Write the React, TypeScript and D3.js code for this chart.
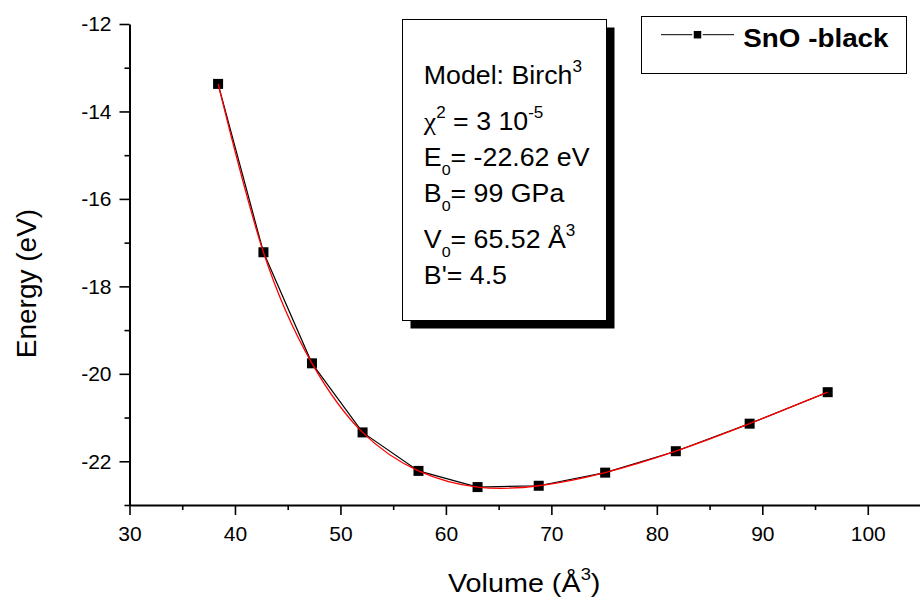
import React, { useEffect, useRef } from 'react';
import * as d3 from 'd3';

// measured points, Volume (Å^3) vs Energy (eV)
const volume = [38.4, 42.7, 47.3, 52.1, 57.4, 63.0, 68.8, 75.1, 81.8, 88.8, 96.2];
const energy = [-13.37, -17.22, -19.76, -21.34, -22.22, -22.59, -22.56, -22.26, -21.77, -21.14, -20.42];

const xTicks = [30, 40, 50, 60, 70, 80, 90, 100];
const xMinor = [35, 45, 55, 65, 75, 85, 95, 105];
const yTicks = [-12, -14, -16, -18, -20, -22];
const yMinor = [-13, -15, -17, -19, -21, -23];

const legendLabel = 'SnO -black';

type Seg = [string, 'n' | 'sup' | 'sub' | 'chi'];
const fitText: Seg[][] = [
  [['Model: Birch', 'n'], ['3', 'sup']],
  [['χ', 'chi'], ['2', 'sup'], [' = 3 10', 'n'], ['-5', 'sup']],
  [['E', 'n'], ['0', 'sub'], ['= -22.62 eV', 'n']],
  [['B', 'n'], ['0', 'sub'], ['= 99 GPa', 'n']],
  [['V', 'n'], ['0', 'sub'], ['= 65.52 Å', 'n'], ['3', 'sup']],
  [["B'= 4.5", 'n']],
];

const W = 920;
const H = 602;
const font = 'Liberation Sans, Arial, Helvetica, sans-serif';

const x = d3.scaleLinear().domain([30, 105]).range([129.5, 920.5]);
const y = d3.scaleLinear().domain([-23, -12]).range([505, 24]);

// layout of the parameter box
const box = { x: 402.5, y: 19.5, w: 204, h: 301, shadow: 8 };
const textX = 423.8;
const baselines = [83.5, 130, 166.3, 202, 248.4, 284];

function RichLine({ segs, by }: { segs: Seg[]; by: number }) {
  let shift = 0;
  return (
    <g transform={`translate(${textX},${by}) scale(1.07,1)`}>
      <text x={0} y={0} fontSize={25} fontFamily={font} fill="#000" style={{ whiteSpace: 'pre' }}>
        {segs.map(([t, k], i) => {
          let target = 0;
          let size = 25;
          let fam = font;
          if (k === 'sup') { target = -12; size = 16; }
          if (k === 'sub') { target = 9; size = 15; }
          if (k === 'chi') { fam = 'Liberation Serif, DejaVu Serif, serif'; size = 26; }
          const dy = target - shift;
          shift = target;
          return (
            <tspan key={i} dy={dy} fontSize={size} fontFamily={fam}>{t}</tspan>
          );
        })}
      </text>
    </g>
  );
}

export default function App() {
  const gx = useRef<SVGGElement>(null);
  const gy = useRef<SVGGElement>(null);

  const pts = volume.map((v, i) => [v, energy[i]] as [number, number]);
  const straight = d3.line<[number, number]>().x(d => x(d[0])).y(d => y(d[1]))(pts) || '';
  const smooth = d3.line<[number, number]>().x(d => x(d[0])).y(d => y(d[1])).curve(d3.curveNatural)(pts) || '';

  useEffect(() => {
    const fmt = (d: d3.NumberValue) => String(d);

    const ax = d3.select(gx.current!);
    ax.selectAll('*').remove();
    ax.append('g')
      .call(d3.axisBottom(x).tickValues(xMinor).tickSize(5).tickSizeOuter(0).tickFormat(() => ''))
      .call(g => g.select('.domain').remove());
    ax.append('g')
      .call(d3.axisBottom(x).tickValues(xTicks).tickSize(10).tickSizeOuter(0).tickPadding(11).tickFormat(fmt));
    ax.selectAll('line').attr('stroke', '#000').attr('stroke-width', 1.6);
    ax.selectAll('.domain').attr('stroke', '#000').attr('stroke-width', 2);
    ax.selectAll('text').attr('font-size', 21).attr('font-family', font).attr('fill', '#000');

    const ay = d3.select(gy.current!);
    ay.selectAll('*').remove();
    ay.append('g')
      .call(d3.axisLeft(y).tickValues(yMinor).tickSize(5).tickSizeOuter(0).tickFormat(() => ''))
      .call(g => g.select('.domain').remove());
    ay.append('g')
      .call(d3.axisLeft(y).tickValues(yTicks).tickSize(10).tickSizeOuter(0).tickPadding(8).tickFormat(fmt));
    ay.selectAll('line').attr('stroke', '#000').attr('stroke-width', 1.6);
    ay.selectAll('.domain').attr('stroke', '#000').attr('stroke-width', 2);
    ay.selectAll('text').attr('font-size', 21).attr('font-family', font).attr('fill', '#000');
  }, []);

  return (
    <div style={{ position: 'absolute', left: 0, top: 0, width: W, height: H, background: '#fff' }}>
      <svg width={W} height={H} style={{ display: 'block' }}>
        <rect width={W} height={H} fill="#fff" />

        {/* data */}
        <path d={straight} fill="none" stroke="#000" strokeWidth={1.2} />
        {pts.map((p, i) => (
          <rect key={i} x={x(p[0]) - 5} y={y(p[1]) - 5} width={10} height={10} fill="#000" />
        ))}
        <path d={smooth} fill="none" stroke="#ff0000" strokeWidth={1.3} />

        {/* axes */}
        <g ref={gx} transform={`translate(0,${y(-23)})`} />
        <g ref={gy} transform={`translate(${x(30)},0)`} />

        {/* axis titles */}
        <g transform="translate(448,591.7) scale(1.15,1)">
          <text fontSize={25} fontFamily={font} fill="#000">
            Volume (Å<tspan dy={-12} fontSize={16}>3</tspan><tspan dy={12}>)</tspan>
          </text>
        </g>
        <text
          transform="translate(36,283.5) rotate(-90)"
          textAnchor="middle"
          fontSize={28}
          fontFamily={font}
          fill="#000"
        >
          Energy (eV)
        </text>

        {/* parameter box with shadow */}
        <rect x={box.x + box.shadow} y={box.y + box.shadow} width={box.w} height={box.h} fill="#000" />
        <rect x={box.x} y={box.y} width={box.w} height={box.h} fill="#fff" stroke="#000" strokeWidth={1} />
        {fitText.map((segs, i) => (
          <RichLine key={i} segs={segs} by={baselines[i]} />
        ))}

        {/* legend */}
        <rect x={641.5} y={16.5} width={265} height={57} fill="#fff" stroke="#000" strokeWidth={1} />
        <line x1={661} x2={734} y1={34.7} y2={34.7} stroke="#000" strokeWidth={1} />
        <rect x={693} y={30.2} width={9} height={9} fill="#000" stroke="#fff" strokeWidth={1.5} />
        <g transform="translate(743.3,46.7) scale(1.07,1)">
          <text fontSize={26} fontWeight="bold" fontFamily={font} fill="#000">{legendLabel}</text>
        </g>
      </svg>
    </div>
  );
}
